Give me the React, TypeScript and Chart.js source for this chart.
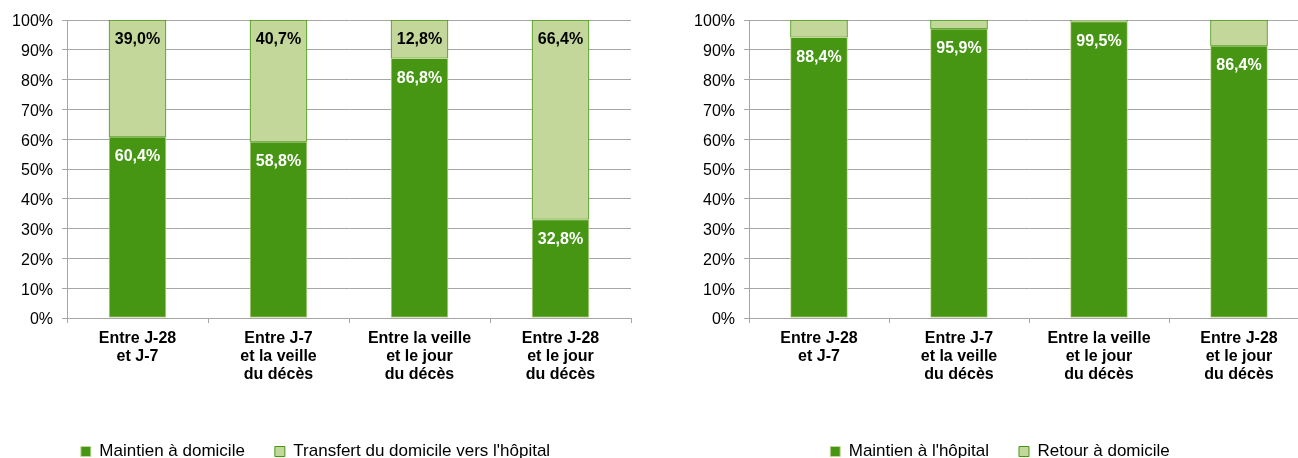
import React, { useEffect, useRef } from "react";
import { Chart, registerables } from "chart.js";

Chart.register(...registerables);

const categories: string[][] = [
  ["Entre J-28", "et J-7"],
  ["Entre J-7", "et la veille", "du décès"],
  ["Entre la veille", "et le jour", "du décès"],
  ["Entre J-28", "et le jour", "du décès"],
];

const leftMaintien = [60.4, 58.8, 86.8, 32.8];
const leftTransfert = [39.0, 40.7, 12.8, 66.4];

const rightMaintien = [88.4, 95.9, 99.5, 86.4];
const rightRetour = [5.5, 2.9, 0.5, 8.2];

const yTickValues = [0, 10, 20, 30, 40, 50, 60, 70, 80, 90, 100];

const DARK = "#469614";
const LIGHT = "#c4d79b";
const GRID = "#a6a6a6";
const FONT = '"Liberation Sans", Arial, sans-serif';

const fmt = (v: number) => v.toFixed(1).replace(".", ",") + "%";

// 100% stacked: each segment's share of the bar's total
const share = (a: number[], b: number[]) => a.map((v, i) => (v / (v + b[i])) * 100);

type Series = {
  label: string;
  values: number[];
  other: number[];
  bg: string;
  border: string;
  labelColor: string | null;
};

function makeChart(canvas: HTMLCanvasElement, series: Series[], padLeft: number, padRight: number) {
  const labelPlugin = {
    id: "valueLabels",
    afterDatasetsDraw(chart: any) {
      const ctx = chart.ctx;
      series.forEach((s, i) => {
        if (!s.labelColor) return;
        const meta = chart.getDatasetMeta(i);
        meta.data.forEach((el: any, j: number) => {
          ctx.save();
          ctx.font = `bold 16px ${FONT}`;
          ctx.fillStyle = s.labelColor as string;
          ctx.textAlign = "center";
          ctx.textBaseline = "middle";
          ctx.fillText(fmt(s.values[j]), el.x, el.y + 20);
          ctx.restore();
        });
      });
    },
  };

  return new Chart(canvas, {
    type: "bar",
    data: {
      labels: categories,
      datasets: series.map((s) => ({
        label: s.label,
        data: share(s.values, s.other),
        backgroundColor: s.bg,
        borderColor: s.border,
        borderWidth: 1,
        borderSkipped: false,
        barThickness: 57,
      })),
    },
    options: {
      responsive: false,
      animation: false,
      layout: { padding: { top: 20, right: padRight, left: padLeft, bottom: 0 } },
      plugins: {
        tooltip: { enabled: false },
        legend: {
          position: "bottom",
          align: "center",
          labels: {
            boxWidth: 10,
            boxHeight: 10,
            padding: 30,
            color: "#000",
            font: { family: FONT, size: 17 },
          },
        },
      },
      scales: {
        x: {
          stacked: true,
          afterFit: (scale: any) => {
            scale.height = 95;
          },
          grid: {
            drawOnChartArea: false,
            drawTicks: true,
            tickLength: 5,
            color: GRID,
            offset: true,
          },
          border: { color: GRID, width: 1 },
          ticks: {
            color: "#000",
            padding: 6,
            maxRotation: 0,
            autoSkip: false,
            font: { family: FONT, size: 16, weight: "bold", lineHeight: 1.15 },
          },
        },
        y: {
          stacked: true,
          min: 0,
          max: 100,
          afterFit: (scale: any) => {
            scale.width = 67 - padLeft;
          },
          afterBuildTicks: (scale: any) => {
            scale.ticks = yTickValues.map((v) => ({ value: v }));
          },
          grid: { color: GRID, lineWidth: 1, tickLength: 5, drawTicks: true },
          border: { color: GRID, width: 1 },
          ticks: {
            color: "#000",
            padding: 9,
            labelOffset: 2,
            font: { family: FONT, size: 16 },
            callback: (v: any) => `${v}%`,
          },
        },
      },
    },
    plugins: [labelPlugin],
  } as any);
}

export default function App() {
  const leftRef = useRef<HTMLCanvasElement>(null);
  const rightRef = useRef<HTMLCanvasElement>(null);

  useEffect(() => {
    const left = makeChart(
      leftRef.current!,
      [
        { label: "Maintien à domicile", values: leftMaintien, other: leftTransfert, bg: DARK, border: LIGHT, labelColor: "#ffffff" },
        { label: "Transfert du domicile vers l'hôpital", values: leftTransfert, other: leftMaintien, bg: LIGHT, border: DARK, labelColor: "#000000" },
      ],
      0,
      13
    );
    const right = makeChart(
      rightRef.current!,
      [
        { label: "Maintien à l'hôpital", values: rightMaintien, other: rightRetour, bg: DARK, border: LIGHT, labelColor: "#ffffff" },
        { label: "Retour à domicile", values: rightRetour, other: rightMaintien, bg: LIGHT, border: DARK, labelColor: null },
      ],
      9,
      28
    );
    return () => {
      left.destroy();
      right.destroy();
    };
  }, []);

  return (
    <div
      style={{
        position: "fixed",
        left: 0,
        top: 0,
        width: 1298,
        height: 458,
        overflow: "hidden",
        background: "#ffffff",
      }}
    >
      <canvas ref={leftRef} width={644} height={470} style={{ position: "absolute", left: 0, top: 0 }} />
      <canvas ref={rightRef} width={655} height={470} style={{ position: "absolute", left: 682, top: 0 }} />
    </div>
  );
}
